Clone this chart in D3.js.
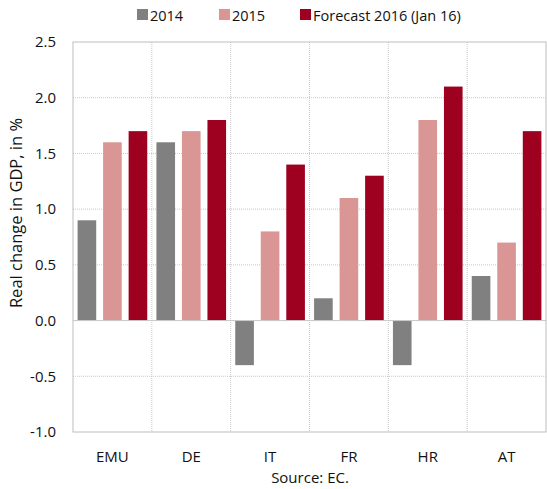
<!DOCTYPE html>
<html>
<head>
<meta charset="utf-8">
<script src="https://cdn.jsdelivr.net/npm/d3@7"></script>
<style>
  body { margin: 0; background: #fff; }
  svg text { font-family: "Open Sans", "Noto Sans", sans-serif; fill: #111; }
</style>
</head>
<body>
<svg id="chart" width="547" height="489"></svg>
<script>
var countries = ["EMU", "DE", "IT", "FR", "HR", "AT"];
var seriesNames = ["2014", "2015", "Forecast 2016 (Jan 16)"];
var v2014 = [0.9, 1.6, -0.4, 0.2, -0.4, 0.4];
var v2015 = [1.6, 1.7, 0.8, 1.1, 1.8, 0.7];
var v2016 = [1.7, 1.8, 1.4, 1.3, 2.1, 1.7];
var yTicks = [-1.0, -0.5, 0.0, 0.5, 1.0, 1.5, 2.0, 2.5];
var colors = ["#808080", "#d99694", "#9e0020"];

var svg = d3.select("#chart");
var pLeft = 73, pRight = 546, pTop = 42, pBottom = 432;

var x = d3.scaleBand().domain(countries).range([pLeft, pRight]);
var xs = d3.scaleBand().domain(seriesNames).range([0, x.bandwidth()])
  .paddingInner(0.27).paddingOuter(0.18);
var y = d3.scaleLinear().domain([-1, 2.5]).range([pBottom, pTop]);

var series = [v2014, v2015, v2016];

// gridlines
var g = svg.append("g");
g.selectAll("hgrid")
  .data(yTicks.filter(function(d) { return d != 0 && d != 2.5 && d != -1; }))
  .enter().append("line")
  .attr("x1", pLeft).attr("x2", pRight)
  .attr("y1", function(d) { return y(d); })
  .attr("y2", function(d) { return y(d); })
  .style("stroke", "#c8c8c8")
  .style("stroke-dasharray", "1,1");
g.selectAll("vgrid")
  .data(countries.slice(1))
  .enter().append("line")
  .attr("x1", function(d) { return x(d); })
  .attr("x2", function(d) { return x(d); })
  .attr("y1", pTop).attr("y2", pBottom)
  .style("stroke", "#c8c8c8")
  .style("stroke-dasharray", "1,1");

// bars
series.forEach(function(vals, i) {
  svg.append("g").selectAll("rect")
    .data(vals)
    .enter().append("rect")
    .attr("x", function(d, j) { return x(countries[j]) + xs(seriesNames[i]); })
    .attr("width", xs.bandwidth())
    .attr("y", function(d) { return y(Math.max(0, d)); })
    .attr("height", function(d) { return Math.abs(y(d) - y(0)); })
    .style("fill", colors[i]);
});

// zero line and frame
svg.append("line")
  .attr("x1", pLeft).attr("x2", pRight)
  .attr("y1", y(0)).attr("y2", y(0))
  .style("stroke", "#c8c8c8");
svg.append("rect")
  .attr("x", pLeft).attr("y", pTop)
  .attr("width", pRight - pLeft).attr("height", pBottom - pTop)
  .style("fill", "none")
  .style("stroke", "#bdbdbd");

// y tick labels (plain hyphen for minus, as in the original)
svg.append("g").selectAll("text")
  .data(yTicks)
  .enter().append("text")
  .attr("x", 56)
  .attr("y", function(d) { return y(d); })
  .attr("dy", "0.35em")
  .attr("text-anchor", "end")
  .style("font-size", "15px")
  .text(function(d) { return d.toFixed(1); });

// x labels
svg.append("g").selectAll("text")
  .data(countries)
  .enter().append("text")
  .attr("x", function(d) { return x(d) + x.bandwidth() / 2; })
  .attr("y", 462)
  .attr("text-anchor", "middle")
  .style("font-size", "15px")
  .text(function(d) { return d; });

svg.append("text")
  .attr("x", 310).attr("y", 483)
  .attr("text-anchor", "middle")
  .style("font-size", "15px")
  .text("Source: EC.");

svg.append("text")
  .attr("transform", "translate(22,213) rotate(-90)")
  .attr("text-anchor", "middle")
  .style("font-size", "16.5px")
  .text("Real change in GDP, in %");

// legend
var legendX = [137, 219, 300];
var legend = svg.append("g").selectAll("g")
  .data(seriesNames)
  .enter().append("g")
  .attr("transform", function(d, i) { return "translate(" + legendX[i] + ",9)"; });
legend.append("rect")
  .attr("width", 11).attr("height", 11)
  .style("fill", function(d, i) { return colors[i]; });
legend.append("text")
  .attr("x", 13).attr("y", 11.5)
  .style("font-size", "14.5px")
  .text(function(d) { return d; });
</script>
</body>
</html>
